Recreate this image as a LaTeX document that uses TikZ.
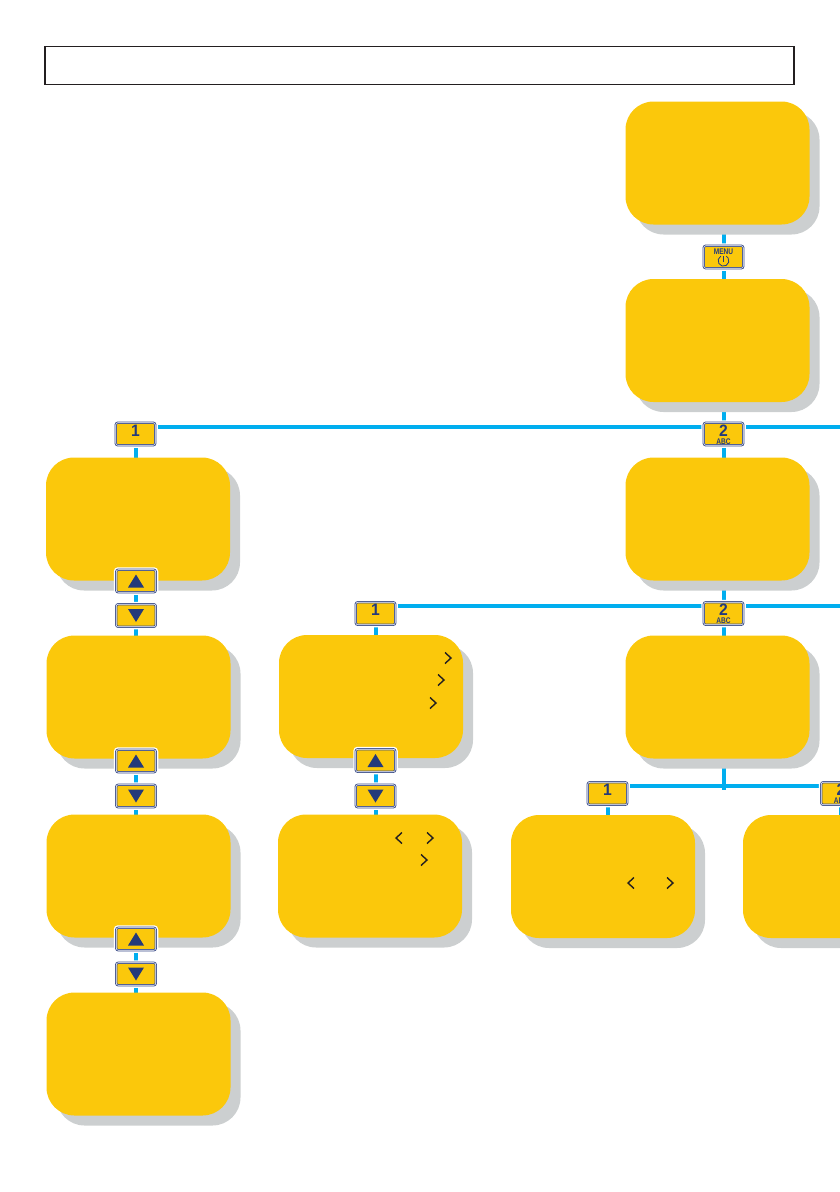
\documentclass[tikz,border=0pt]{standalone}
\usepackage{fontspec}
\usepackage{graphicx}
\setmainfont{Liberation Sans}
\usetikzlibrary{shadows}
\definecolor{panel}{HTML}{FBC80B}
\definecolor{shade}{HTML}{CCCFD0}
\definecolor{wire}{HTML}{00AEEF}
\definecolor{navy}{HTML}{243A7A}
\definecolor{rim}{HTML}{3A4C88}
\definecolor{ink}{HTML}{231F20}
\pgfdeclarelayer{back}
\pgfsetlayers{back,main}
\newcommand\placed[2]{\raisebox{#1}[0pt][0pt]{\makebox[0pt]{#2}}}
\newcommand\digit[1]{\placed{-2pt}{\scalebox{0.95}[1]{\fontsize{16.5}{16.5}\selectfont\bfseries #1}}}
\newcommand\digitabc[1]{\placed{-2pt}{\scalebox{0.95}[1]{\fontsize{16.5}{16.5}\selectfont\bfseries #1}}\placed{-10pt}{\scalebox{0.8}[1]{\fontsize{8.2}{8.2}\selectfont\bfseries ABC}}}
\newcommand\uptri[1]{\fill[navy] ([shift={(-8,6.5)}]#1.center) -- ([shift={(8,6.5)}]#1.center) -- ([shift={(0,-6.5)}]#1.center) -- cycle;}
\newcommand\downtri[1]{\fill[navy] ([shift={(-8,-6.5)}]#1.center) -- ([shift={(8,-6.5)}]#1.center) -- ([shift={(0,6.5)}]#1.center) -- cycle;}
\newcommand\chevr[2]{\draw[chev] (#1-3,#2-5.5) -- (#1+3,#2) -- (#1-3,#2+5.5);}
\newcommand\chevl[2]{\draw[chev] (#1+3,#2-5.5) -- (#1-3,#2) -- (#1+3,#2+5.5);}
\tikzset{
  x=1pt,y=-1pt,
  panelbox/.style={fill=panel,rounded corners=28pt,minimum width=184pt,minimum height=123pt,inner sep=0pt,outer sep=0pt,
    drop shadow={shadow xshift=10pt,shadow yshift=-10pt,fill=shade,opacity=1}},
  keybox/.style={draw=rim,line width=0.85pt,double=white,double distance=0.55pt,fill=panel,rounded corners=2pt,
    minimum width=39.5pt,minimum height=22.5pt,inner sep=0pt,outer sep=0pt,text=navy,
    preaction={draw=white,line width=5pt}},
  wireline/.style={draw=wire,line width=4pt},
  chev/.style={draw=ink,line width=1.4pt},
  titlebox/.style={draw=ink,line width=1.3pt,minimum width=749pt,minimum height=38.5pt,inner sep=0pt},
  iconline/.style={draw=navy,line width=0.8pt},
}
\begin{document}
\begin{tikzpicture}
\useasboundingbox (0,0) rectangle (840,1192);
\node[titlebox] (title) at (419.5,65.5) {};
% panels
\node[panelbox] (a) at (717.5,163) {};
\node[panelbox] (b) at (717.5,340.5) {};
\node[panelbox] (c) at (717.5,519) {};
\node[panelbox] (d) at (717.5,697) {};
\node[panelbox] (l1) at (138,519) {};
\node[panelbox] (l2) at (138.5,697) {};
\node[panelbox] (l3) at (138.5,876) {};
\node[panelbox] (l4) at (138.5,1054) {};
\node[panelbox] (m1) at (371,696.5) {};
\node[panelbox] (m2) at (370,876) {};
\node[panelbox] (e) at (603,876.5) {};
\node[panelbox] (f) at (835,876.5) {};
% keys
\node[keybox] (kmenu) at (723.5,257) {\placed{3pt}{\scalebox{0.8}[1]{\fontsize{8.2}{8.2}\selectfont\bfseries MENU}}};
\draw[iconline] (720.8,256.1) arc[start angle=120,end angle=420,radius=5.4pt];
\draw[iconline] (723.5,256) -- (723.5,261.5);
\node[keybox] (k1) at (135.5,434) {\digit{1}};
\node[keybox] (k2) at (723.5,434) {\digitabc{2}};
\node[keybox] (ku1) at (136,581) {};
\node[keybox] (kd1) at (136,615.5) {};
\node[keybox] (ku2) at (136,761) {};
\node[keybox] (kd2) at (136,796) {};
\node[keybox] (ku3) at (136,939) {};
\node[keybox] (kd3) at (136,974) {};
\node[keybox] (k3) at (375.5,613.5) {\digit{1}};
\node[keybox] (k4) at (723.5,613.5) {\digitabc{2}};
\node[keybox] (ku4) at (375.5,760.5) {};
\node[keybox] (kd4) at (375.5,796) {};
\node[keybox] (k5) at (607.5,793.5) {\digit{1}};
\node[keybox] (k6) at (841,793.5) {\digitabc{2}};
\foreach \k in {ku1,ku2,ku3,ku4} {\uptri{\k}}
\foreach \k in {kd1,kd2,kd3,kd4} {\downtri{\k}}
% chevrons
\chevr{448}{658}
\chevr{441}{680}
\chevr{433}{703}
\chevl{399}{838}
\chevr{430}{838}
\chevr{424}{860}
\chevl{631}{883}
\chevr{670}{883}
% free ends
\coordinate (r1) at (840,426.75);
\coordinate (r2) at (840,606.25);
\coordinate (j) at (723.5,790);
\begin{pgfonlayer}{back}
\draw[wireline] (a.south -| kmenu) -- (kmenu);
\draw[wireline] (kmenu) -- (b.north -| kmenu);
\draw[wireline] (b.south -| k2) -- (k2);
\draw[wireline] (k2) -- (c.north -| k2);
\draw[wireline] (c.south -| k4) -- (k4);
\draw[wireline] (k4) -- (d.north -| k4);
\draw[wireline] (d.south -| j) -- (j);
\draw[wireline] ([yshift=-4pt]k1.north) -- ([yshift=-4pt]k2.north);
\draw[wireline] ([yshift=-4pt]k2.north) -- (r1);
\draw[wireline] ([yshift=-4pt]k3.north) -- ([yshift=-4pt]k4.north);
\draw[wireline] ([yshift=-4pt]k4.north) -- (r2);
\draw[wireline] ([yshift=-4pt]k5.north) -- ([yshift=-4pt]k6.north);
\draw[wireline] (k1) -- (l1.north -| k1);
\draw[wireline] (ku1) -- (kd1);
\draw[wireline] (kd1) -- (l2.north -| kd1);
\draw[wireline] (ku2) -- (kd2);
\draw[wireline] (kd2) -- (l3.north -| kd2);
\draw[wireline] (ku3) -- (kd3);
\draw[wireline] (kd3) -- (l4.north -| kd3);
\draw[wireline] (k3) -- (m1.north -| k3);
\draw[wireline] (ku4) -- (kd4);
\draw[wireline] (kd4) -- (m2.north -| kd4);
\draw[wireline] (k5) -- (e.north -| k5);
\draw[wireline] (k6) -- (f.north -| k6);
\end{pgfonlayer}
\end{tikzpicture}
\end{document}
